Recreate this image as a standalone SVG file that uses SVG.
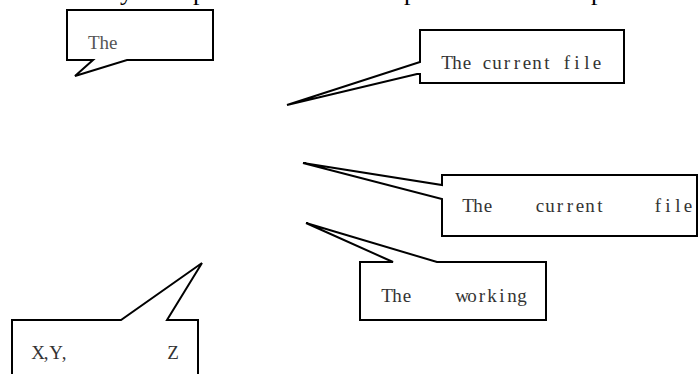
<svg xmlns="http://www.w3.org/2000/svg" width="698" height="374" viewBox="0 0 698 374">
  <style>
    .callout { fill: #ffffff; stroke: #000000; stroke-width: 2; stroke-linejoin: miter; }
    .serif { font-family: "Liberation Serif", "Noto Sans CJK SC", serif; }
    /* half-width serif lettering: one glyph per 10px cell, centred */
    .label { font-family: "Liberation Serif", "Noto Sans CJK SC", serif; font-size: 19px; fill: #333333; text-anchor: middle; }
    .clip-line { font-size: 26px; fill: #000000; }
  </style>

  <!-- descenders of the heading line, cut off at the top edge -->
  <g id="heading-fragments" class="serif clip-line">
    <text x="120" y="0">y</text>
    <text x="193" y="0">p</text>
    <text x="404" y="0">p</text>
    <text x="591" y="0">p</text>
  </g>

  <!-- callout: "The" (top left) -->
  <g id="callout-the">
    <path class="callout" d="M67,10 H213 V60 H127 L75,76 L93,60 H67 Z"/>
    <text class="serif" x="88" y="49" font-size="19" fill="#555555">The</text>
  </g>

  <!-- callout: current file (upper right) -->
  <g id="callout-current-file-1">
    <path class="callout" d="M420,30 H624 V83 H420 V74 H417 L287,105 L420,62 Z"/>
    <text class="label" x="447 457 467 477 487 497 507 517 527 537 547 557 567 577 587 597" y="69">The current file</text>
  </g>

  <!-- callout: current file (right, justified) -->
  <g id="callout-current-file-2">
    <path class="callout" d="M442,175 H697 V236 H442 V199 L303,163 L442,185 Z"/>
    <text class="label" x="468 478 488" y="212">The</text>
    <text class="label" x="540 550 560 570 580 590 600" y="212">current</text>
    <text class="label" x="658 668 678 688" y="212">file</text>
  </g>

  <!-- callout: working -->
  <g id="callout-working">
    <path class="callout" d="M360,262 H393 L306,223 L437,262 H546 V320 H360 Z"/>
    <text class="label" x="387 397 407" y="302">The</text>
    <text class="label" x="462 472 482 492 502 512 522" y="302">working</text>
  </g>

  <!-- callout: coordinates (bottom left) -->
  <g id="callout-xyz">
    <path class="callout" d="M12,376 V320 H121 L202,263 L167,320 H198 V376"/>
    <text class="label" x="38 46 56 64" y="359">X,Y,</text>
    <text class="label" x="173" y="359">Z</text>
  </g>

  <!-- connectors are drawn as the pointer tails of each callout shape -->
  <g id="connectors"/>
</svg>
